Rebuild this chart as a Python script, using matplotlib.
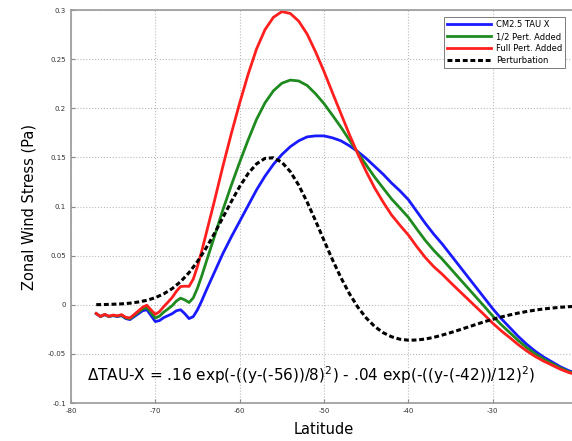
import matplotlib
matplotlib.use("Agg")
import matplotlib.pyplot as plt

# latitude grid for the three wind stress curves (finer where the curves wiggle)
lat = [-77, -76.5, -76, -75.5, -75, -74.5, -74, -73.5, -73, -72.5, -72, -71.5,
       -71, -70.5, -70, -69.5, -69, -68.5, -68, -67.5, -67, -66.5, -66, -65.5,
       -65, -64.5, -64,
       -63, -62, -61, -60, -59, -58, -57, -56, -55, -54, -53, -52, -51, -50,
       -49, -48, -47, -46, -45, -44, -43, -42, -41, -40, -39, -38, -37, -36,
       -35, -34, -33, -32, -31, -30, -29, -28, -27, -26, -25, -24, -23, -22,
       -21, -20]

cm25 = [-0.009, -0.012, -0.010, -0.012, -0.011, -0.012, -0.011, -0.014, -0.015,
        -0.012, -0.009, -0.006, -0.005, -0.011, -0.017, -0.016, -0.013, -0.011,
        -0.009, -0.006, -0.005, -0.009, -0.014, -0.012, -0.005, 0.004, 0.014,
        0.033, 0.052, 0.069, 0.085, 0.101, 0.117, 0.131, 0.143, 0.153, 0.161,
        0.167, 0.171, 0.172, 0.172, 0.170, 0.167, 0.162, 0.156, 0.149, 0.141,
        0.133, 0.124, 0.116, 0.107, 0.095, 0.083, 0.072, 0.062, 0.051, 0.040,
        0.029, 0.018, 0.007, -0.004, -0.014, -0.023, -0.032, -0.040, -0.047,
        -0.053, -0.058, -0.063, -0.067, -0.070]

half_pert = [-0.0089, -0.0119, -0.0099, -0.0118, -0.0107, -0.0116, -0.0105,
             -0.0134, -0.0142, -0.0109, -0.0076, -0.0042, -0.0027, -0.0081,
             -0.0134, -0.0115, -0.0074, -0.0042, -0.0008, 0.0039, 0.0068,
             0.0050, 0.0024, 0.0071, 0.0171, 0.0293, 0.0428,
             0.0693, 0.0964, 0.1215, 0.1452, 0.1678, 0.1888, 0.2056, 0.2179,
             0.2256, 0.2288, 0.2279, 0.2233, 0.2148, 0.2048, 0.1930, 0.1809,
             0.1678, 0.1549, 0.1423, 0.1300, 0.1189, 0.1078, 0.0985, 0.0890,
             0.0771, 0.0656, 0.0555, 0.0466, 0.0369, 0.0272, 0.0176, 0.0080,
             -0.0016, -0.0114, -0.0202, -0.0282, -0.0362, -0.0434, -0.0497,
             -0.0551, -0.0597, -0.0643, -0.0680, -0.0707]

full_pert = [-0.0088, -0.0118, -0.0097, -0.0116, -0.0104, -0.0112, -0.0100,
             -0.0127, -0.0133, -0.0098, -0.0061, -0.0024, -0.0004, -0.0052,
             -0.0097, -0.0069, -0.0018, 0.0027, 0.0075, 0.0138, 0.0186,
             0.0190, 0.0188, 0.0262, 0.0391, 0.0546, 0.0715,
             0.1055, 0.1407, 0.1740, 0.2054, 0.2346, 0.2605, 0.2801, 0.2927,
             0.2985, 0.2966, 0.2888, 0.2756, 0.2575, 0.2375, 0.2159, 0.1947,
             0.1735, 0.1537, 0.1356, 0.1190, 0.1047, 0.0915, 0.0810, 0.0710,
             0.0592, 0.0482, 0.0389, 0.0312, 0.0227, 0.0144, 0.0062, -0.0020,
             -0.0102, -0.0187, -0.0264, -0.0333, -0.0404, -0.0468, -0.0524,
             -0.0572, -0.0613, -0.0655, -0.0689, -0.0714]

# perturbation curve
pert_lat = list(range(-77, -19))
pert = [0.0002, 0.0003, 0.0006, 0.0010, 0.0017, 0.0029, 0.0046, 0.0073, 0.0112,
        0.0165, 0.0236, 0.0328, 0.0441, 0.0575, 0.0725, 0.0887, 0.1050, 0.1204,
        0.1336, 0.1435, 0.1491, 0.1497, 0.1452, 0.1356, 0.1218, 0.1046, 0.0855,
        0.0655, 0.0459, 0.0277, 0.0115, -0.0023, -0.0134, -0.0220, -0.0283,
        -0.0325, -0.0350, -0.0360, -0.0358, -0.0348, -0.0331, -0.0308, -0.0283,
        -0.0256, -0.0228, -0.0200, -0.0172, -0.0147, -0.0124, -0.0103, -0.0084,
        -0.0068, -0.0054, -0.0042, -0.0033, -0.0025, -0.0019, -0.0014]

xticks = [-80, -70, -60, -50, -40, -30, -20]
yticks = [-0.1, -0.05, 0, 0.05, 0.1, 0.15, 0.2, 0.25, 0.3]
ytick_labels = ["-0.1", "-0.05", "0", "0.05", "0.1", "0.15", "0.2", "0.25", "0.3"]

fig = plt.figure(figsize=(5.72, 4.41), dpi=100)
ax = fig.add_axes([0.124, 0.086, 0.885, 0.891])

ax.plot(lat, cm25, color="#1a1aff", lw=2, label="CM2.5 TAU X")
ax.plot(lat, half_pert, color="#1f8a1f", lw=2, label="1/2 Pert. Added")
ax.plot(lat, full_pert, color="#ff1f1f", lw=2, label="Full Pert. Added")
ax.plot(pert_lat, pert, color="black", lw=2.2, ls=(0, (1.6, 0.9)), label="Perturbation")

ax.set_xlim(-80, -20)
ax.set_ylim(-0.1, 0.3)
ax.set_xticks(xticks)
ax.set_xticklabels([str(t) for t in xticks])
ax.set_yticks(yticks)
ax.set_yticklabels(ytick_labels)
ax.tick_params(direction="in", labelsize=5, length=3, color="#888888", labelcolor="#333333")
ax.grid(True, ls=":", color="#bbbbbb", lw=0.8)
for s in ax.spines.values():
    s.set_color("#999999")
    s.set_linewidth(1.2)

ax.set_xlabel("Latitude", fontsize=10.5, labelpad=6)
ax.set_ylabel("Zonal Wind Stress (Pa)", fontsize=10.5, labelpad=8)

plt.rcParams["mathtext.default"] = "regular"
ax.text(-78.1, -0.072,
        r"$\Delta$TAU-X = .16 exp(-((y-(-56))/8)$^2$) - .04 exp(-((y-(-42))/12)$^2$)",
        fontsize=11, va="center", ha="left")

leg = ax.legend(loc="upper right", bbox_to_anchor=(0.985, 0.993), fontsize=6,
                frameon=True, fancybox=False, framealpha=1, edgecolor="#666666",
                handlelength=5.2, borderpad=0.4, labelspacing=0.35, handletextpad=0.6)
leg.get_frame().set_linewidth(0.6)

fig.savefig("out.png", dpi=100)
